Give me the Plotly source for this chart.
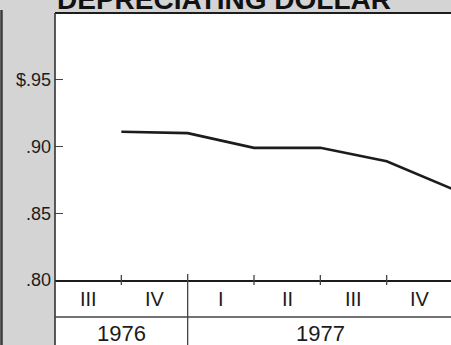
import plotly.graph_objects as go

# ---- data ----
title_text = "DEPRECIATING DOLLAR"
quarter_labels = ["III", "IV", "I", "II", "III", "IV"]
year_labels = ["1976", "1977"]
year_quarter_counts = [2, 4]
period_end = ["1976-III", "1976-IV", "1977-I", "1977-II", "1977-III", "1977-IV"]
dollar_value = [0.911, 0.910, 0.899, 0.899, 0.889, 0.868]
y_tick_vals = [0.80, 0.85, 0.90, 0.95]
y_tick_text = [".80", ".85", ".90", "$.95"]

# ---- geometry helpers ----
W, H = 451, 345
ml, mr, mt, mb = 55, 0, 13, 65
plot_h = H - mt - mb
def py(pix):  # pixel row -> paper y
    return (H - mb - pix) / plot_h

x_vals = [i + 1 for i in range(len(period_end))]
x_max = 6 * (W - ml) / (453 - ml)

GREY = "#d4d4d4"
INK = "#1c1c1c"
FONT = "Liberation Sans, Arial, sans-serif"

fig = go.Figure()
fig.add_trace(go.Scatter(
    x=x_vals, y=dollar_value, mode="lines",
    line=dict(color=INK, width=2.6), hoverinfo="skip", showlegend=False,
))

shapes = []
# white panel that extends below plot area
shapes.append(dict(type="rect", xref="paper", yref="paper", x0=0, x1=1.02,
                   y0=py(H + 5), y1=1, fillcolor="white", line=dict(width=0),
                   layer="below"))
# top border
shapes.append(dict(type="line", xref="paper", yref="paper", x0=0, x1=1.02,
                   y0=1, y1=1, line=dict(color=INK, width=2.2)))
# left border of panel
shapes.append(dict(type="line", xref="paper", yref="paper", x0=0, x1=0,
                   y0=py(H + 5), y1=1, line=dict(color="#333333", width=1.6)))
# far-left dark edge
shapes.append(dict(type="line", xref="paper", yref="paper",
                   x0=-(ml - 1.5) / (W - ml), x1=-(ml - 1.5) / (W - ml),
                   y0=py(H + 5), y1=py(10), line=dict(color="#3a3a3a", width=2.5)))
# separator between quarter row and year row
shapes.append(dict(type="line", xref="paper", yref="paper", x0=0, x1=1.02,
                   y0=py(317), y1=py(317), line=dict(color="#444444", width=1.4)))
# quarter ticks crossing the axis and year separator
cum = 0
year_bounds = []
for c in year_quarter_counts[:-1]:
    cum += c
    year_bounds.append(cum)
for b in range(1, 6):
    if b in year_bounds:
        shapes.append(dict(type="line", xref="x", yref="paper", x0=b, x1=b,
                           y0=py(H + 5), y1=py(274),
                           line=dict(color="#444444", width=1.3)))
    else:
        shapes.append(dict(type="line", xref="x", yref="paper", x0=b, x1=b,
                           y0=py(285), y1=py(275),
                           line=dict(color="#444444", width=1.3)))

annotations = []
for i, q in enumerate(quarter_labels):
    annotations.append(dict(x=i + 0.5, y=py(299), xref="x", yref="paper",
                            xanchor="center", yanchor="middle",
                            text=q, showarrow=False,
                            font=dict(family=FONT, size=20, color=INK)))
start = 0
for yl, c in zip(year_labels, year_quarter_counts):
    annotations.append(dict(x=start + c / 2, y=py(333), xref="x", yref="paper",
                            xanchor="center", yanchor="middle",
                            text=yl, showarrow=False,
                            font=dict(family=FONT, size=22, color=INK)))
    start += c
annotations.append(dict(x=0, y=py(9), xref="paper", yref="paper",
                        xanchor="left", yanchor="bottom", yshift=-8,
                        text="<b>" + title_text + "</b>", showarrow=False,
                        font=dict(family=FONT, size=28, color="#111111")))

fig.update_layout(
    width=W, height=H,
    margin=dict(l=ml, r=mr, t=mt, b=mb, pad=0),
    paper_bgcolor=GREY, plot_bgcolor="white",
    shapes=shapes, annotations=annotations,
    xaxis=dict(range=[0, x_max], showgrid=False, zeroline=False,
               showticklabels=False, ticks="", showline=True,
               linecolor=INK, linewidth=2, fixedrange=True),
    yaxis=dict(range=[0.80, 1.00], showgrid=False, zeroline=False,
               tickvals=y_tick_vals, ticktext=y_tick_text,
               ticks="inside", ticklen=8, tickcolor="#444444", tickwidth=1.2,
               showline=False, ticklabelstandoff=3,
               tickfont=dict(family=FONT, size=18, color=INK), fixedrange=True),
    showlegend=False,
)

fig.write_html(
    "out.html",
    config={"displayModeBar": False},
    post_script="document.body.style.margin='0';document.body.style.overflow='hidden';",
)
